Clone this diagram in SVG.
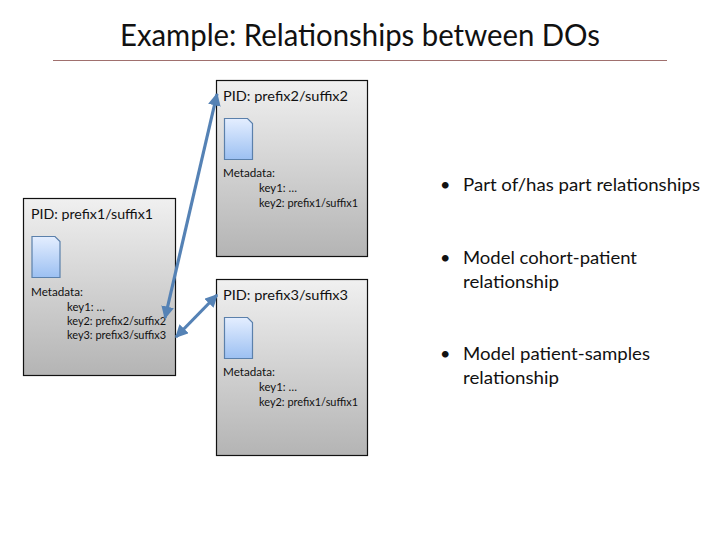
<svg xmlns="http://www.w3.org/2000/svg" width="720" height="540" viewBox="0 0 720 540">
<style>
text{font-family:Lato,"Open Sans","Liberation Sans",sans-serif;fill:#111}
.box{fill:url(#boxg);stroke:#111;stroke-width:1.2}
.doc{fill:url(#docg);stroke:#5b80ab;stroke-width:1.2}
.pid{font-size:13.5px}
.meta{font-size:11px}
.bul{font-size:18px}
.arrow{stroke:#5582b5;stroke-width:3.2;fill:none;marker-start:url(#ah);marker-end:url(#ah)}
</style>
<defs>
<linearGradient id="boxg" x1="0" y1="0" x2="0" y2="1"><stop offset="0" stop-color="#f0f0f0"/><stop offset="1" stop-color="#b4b4b4"/></linearGradient>
<linearGradient id="docg" x1="0" y1="0" x2="0" y2="1"><stop offset="0" stop-color="#e4eeff"/><stop offset="1" stop-color="#9cc0f2"/></linearGradient>
<marker id="ah" viewBox="0 0 10 10" refX="9" refY="5" markerWidth="4" markerHeight="4" orient="auto-start-reverse"><path d="M0 0L10 5L0 10z" fill="#5582b5"/></marker>
<path id="d" d="M0 0H23L28 5V41H0z"/>
</defs>
<rect width="720" height="540" fill="#fff"/>
<g id="title">
<text x="120" y="46" font-size="30" textLength="480" lengthAdjust="spacingAndGlyphs">Example: Relationships between DOs</text>
<line x1="53" y1="60.5" x2="667" y2="60.5" stroke="#a0706e" stroke-width="1"/>
</g>
<g id="node-prefix1">
<rect class="box" x="23.5" y="198.5" width="152" height="177"/>
<use href="#d" class="doc" x="32" y="236.5"/>
<text class="pid" x="31" y="219" textLength="122" lengthAdjust="spacingAndGlyphs">PID: prefix1/suffix1</text>
<text class="meta" x="31" y="296" textLength="52" lengthAdjust="spacingAndGlyphs">Metadata:</text>
<text class="meta" x="67" y="311" textLength="38" lengthAdjust="spacingAndGlyphs">key1: …</text>
<text class="meta" x="67" y="325" textLength="99" lengthAdjust="spacingAndGlyphs">key2: prefix2/suffix2</text>
<text class="meta" x="67" y="339" textLength="99" lengthAdjust="spacingAndGlyphs">key3: prefix3/suffix3</text>
</g>
<g id="node-prefix2">
<rect class="box" x="216.5" y="80.5" width="151" height="176"/>
<use href="#d" class="doc" x="224.5" y="118.5"/>
<text class="pid" x="223" y="101" textLength="125" lengthAdjust="spacingAndGlyphs">PID: prefix2/suffix2</text>
<text class="meta" x="223" y="177" textLength="52" lengthAdjust="spacingAndGlyphs">Metadata:</text>
<text class="meta" x="259" y="192" textLength="38" lengthAdjust="spacingAndGlyphs">key1: …</text>
<text class="meta" x="259" y="207" textLength="99" lengthAdjust="spacingAndGlyphs">key2: prefix1/suffix1</text>
</g>
<g id="node-prefix3">
<rect class="box" x="216.5" y="279.5" width="151" height="176"/>
<use href="#d" class="doc" x="224.5" y="317.5"/>
<text class="pid" x="223" y="300" textLength="125" lengthAdjust="spacingAndGlyphs">PID: prefix3/suffix3</text>
<text class="meta" x="223" y="376" textLength="52" lengthAdjust="spacingAndGlyphs">Metadata:</text>
<text class="meta" x="259" y="391" textLength="38" lengthAdjust="spacingAndGlyphs">key1: …</text>
<text class="meta" x="259" y="406" textLength="99" lengthAdjust="spacingAndGlyphs">key2: prefix1/suffix1</text>
</g>
<g id="connectors">
<line class="arrow" x1="165" y1="318" x2="217" y2="94"/>
<line class="arrow" x1="176" y1="337" x2="217" y2="295"/>
</g>
<g id="bullets">
<text class="bul" x="440" y="191">•</text>
<text class="bul" x="463" y="191" textLength="237" lengthAdjust="spacingAndGlyphs">Part of/has part relationships</text>
<text class="bul" x="440" y="264">•</text>
<text class="bul" x="463" y="264" textLength="174" lengthAdjust="spacingAndGlyphs">Model cohort-patient</text>
<text class="bul" x="463" y="288" textLength="96" lengthAdjust="spacingAndGlyphs">relationship</text>
<text class="bul" x="440" y="360">•</text>
<text class="bul" x="463" y="360" textLength="187" lengthAdjust="spacingAndGlyphs">Model patient-samples</text>
<text class="bul" x="463" y="384" textLength="96" lengthAdjust="spacingAndGlyphs">relationship</text>
</g>
</svg>
